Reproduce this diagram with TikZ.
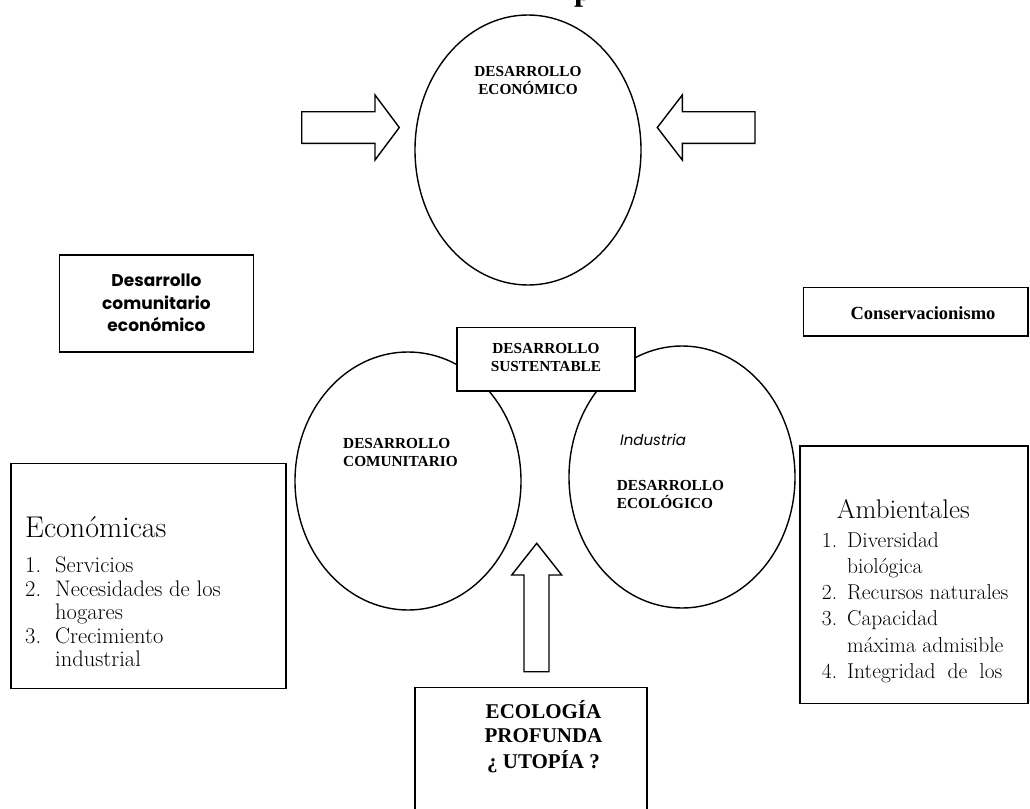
\documentclass[tikz,border=0pt]{standalone}
\usepackage{fontspec}
\usetikzlibrary{shapes.geometric}
\newfontfamily\tnr{Liberation Serif}
\newfontfamily\gothic{Poppins}
\newcommand{\mystack}[2]{\begin{tabular}[t]{@{}#1@{}}#2\end{tabular}}
\newcommand{\nitemL}[2]{\makebox[30pt][l]{#1}#2}
\newcommand{\nitemR}[2]{\makebox[25.3pt][l]{#1}#2}
\begin{document}
\begin{tikzpicture}[x=1pt,y=-1pt,
  ell/.style={draw, ellipse, line width=1.4pt, inner sep=0pt, minimum width=226pt},
  box/.style={draw, line width=1.6pt, inner sep=0pt, fill=white},
  capt/.style={inner sep=0pt, font=\tnr\bfseries\fontsize{15.3}{18.6}\selectfont},
  gtxt/.style={inner sep=0pt, font=\gothic\bfseries\fontsize{17}{22.4}\selectfont},
  listtxt/.style={inner sep=0pt, font=\fontsize{22.5}{23.6}\selectfont},
  blockarrow/.style={draw, line width=1.4pt, line join=miter, fill=white}]
\useasboundingbox (0,0) rectangle (1030,808);

% cut-off title
\node[anchor=base, inner sep=0pt, font=\tnr\bfseries\fontsize{32}{38}\selectfont] (titlep) at (583,1) {p};

% ellipses
\node[ell, minimum height=270pt] (econ) at (528,150) {};
\node[ell, minimum height=258pt] (comu) at (408,481) {};
\node[ell, minimum height=262pt] (ecol) at (682,477) {};

% block arrows
\coordinate (la) at (301.7,111.7);
\draw[blockarrow] (la) -- (375,111.7) -- (375,95) -- (399.3,127.5) -- (375,160) -- (375,143.3) -- (301.7,143.3) -- cycle;
\coordinate (ra) at (755,111.7);
\draw[blockarrow] (ra) -- (682.3,111.7) -- (682.3,95) -- (657.3,127.5) -- (682.3,160) -- (682.3,143.3) -- (755,143.3) -- cycle;
\coordinate (ua) at (524,671.7);
\draw[blockarrow] (ua) -- (524,575) -- (511.7,575) -- (536.7,543.3) -- (561.7,575) -- (549,575) -- (549,671.7) -- cycle;

% boxes
\node[box, minimum width=194pt, minimum height=96.7pt] (dce) at (156.3,303.35) {};
\node[box, minimum width=224.7pt, minimum height=48.4pt] (cons) at (915.65,311.5) {};
\node[box, minimum width=178pt, minimum height=63.7pt] (ds) at (546,359.15) {};
\node[box, minimum width=275.3pt, minimum height=225pt] (econbox) at (148.35,575.8) {};
\node[box, minimum width=228pt, minimum height=257.3pt] (ambbox) at (914,574.65) {};
\node[box, minimum width=232pt, minimum height=140pt] (ecobox) at (531,757.3) {};

% captions
\node[capt, anchor=base] (econtxt) at (528,76) {\mystack{c}{DESARROLLO\\ECONÓMICO}};
\node[capt, anchor=base] (dstxt) at (546,353) {\mystack{c}{DESARROLLO\\SUSTENTABLE}};
\node[capt, anchor=base west] (comutxt) at (343,448) {\mystack{l}{DESARROLLO\\COMUNITARIO}};
\node[capt, anchor=base west] (ecoltxt) at (616.7,490) {\mystack{l}{DESARROLLO\\ECOLÓGICO}};
\node[inner sep=0pt, anchor=base west, font=\gothic\itshape\fontsize{15}{18}\selectfont] (indtxt) at (620,445) {Industria};
\node[gtxt, anchor=base] (dcetxt) at (156.5,286.7) {\mystack{c}{Desarrollo\\comunitario\\económico}};
\node[inner sep=0pt, anchor=base, font=\tnr\bfseries\fontsize{18.5}{22}\selectfont] (constxt) at (923,319) {Conservacionismo};
\node[inner sep=0pt, anchor=base, font=\tnr\bfseries\fontsize{21}{24.8}\selectfont] (ecotxt) at (543.5,718) {\mystack{c}{ECOLOGÍA\\PROFUNDA\\¿ UTOPÍA ?}};

% lists
\node[inner sep=0pt, anchor=base west, font=\fontsize{30}{36}\selectfont] (econtitle) at (25,537.3) {Económicas};
\node[listtxt, anchor=base west] (econlist) at (25,572.5) {\mystack{l}{%
  \nitemL{1.}{Servicios}\\
  \nitemL{2.}{Necesidades de los}\\
  \nitemL{}{hogares}\\
  \nitemL{3.}{Crecimiento}\\
  \nitemL{}{industrial}}};
\node[inner sep=0pt, anchor=base west, font=\fontsize{27}{32}\selectfont] (ambtitle) at (836.7,518.3) {Ambientales};
\node[inner sep=0pt, anchor=base west, font=\fontsize{21.5}{26.3}\selectfont] (amblist) at (821.7,547) {\mystack{l}{%
  \nitemR{1.}{Diversidad}\\
  \nitemR{}{biológica}\\
  \nitemR{2.}{Recursos naturales}\\
  \nitemR{3.}{Capacidad}\\
  \nitemR{}{máxima admisible}\\
  \nitemR{4.}{Integridad\hspace{12pt}de\hspace{12pt}los}}};
\end{tikzpicture}
\end{document}
